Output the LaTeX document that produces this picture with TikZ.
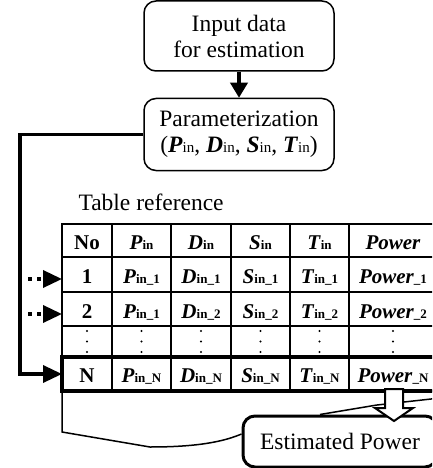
\documentclass[tikz,border=0pt]{standalone}
\usepackage{fontspec}
\setmainfont{Liberation Serif}
\usetikzlibrary{arrows.meta}

\newcommand{\bi}[1]{\textbf{\textit{#1}}}
\newcommand{\tsub}[1]{{\fontsize{13}{13}\selectfont\textbf{#1}}}
\newcommand{\psub}[1]{{\fontsize{15}{15}\selectfont #1}}

\begin{document}
\begin{tikzpicture}[x=1pt, y=-1pt, font=\fontsize{23.5}{27}\selectfont,
        box/.style={draw, rounded corners=12pt, line width=1.5pt, fill=white,
            minimum width=190pt, align=center, inner sep=2pt},
        cell/.style={font=\fontsize{21}{23}\selectfont\bfseries, text height=14pt, text depth=1pt},
        tip/.style={-{Triangle[length=19pt, width=17pt]}}]
        \useasboundingbox (0, 0) rectangle (432, 468);
        \clip (0, 0) rectangle (432, 468);
        \node [box, minimum height=70pt] (input) at (239, 36) {Input data\\[-1pt]for estimation};
        \node [box, minimum height=72pt] (param) at (239, 134.5)
            {Parameterization\\[-1pt](\bi{P}\psub{in}, \bi{D}\psub{in}, \bi{S}\psub{in}, \bi{T}\psub{in})};
        \draw [line width=3.5pt, -{Triangle[length=15pt, width=17pt]}] (input) -- (param);
        \node [anchor=west] (tref) at (75, 202) {Table reference};
        \draw [line width=1.5pt] (62, 224) rectangle (437, 391);
        \foreach \x in {112, 171, 231, 290, 349}
            \draw [line width=1.2pt] (\x, 224) -- (\x, 391);
        \foreach \y in {257, 292, 326}
            \draw [line width=1.2pt] (62, \y) -- (437, \y);
        \draw [line width=3.5pt] (62, 357) rectangle (437, 391);
        \foreach \cx/\h/\a/\b/\n [count=\i] in {
                87/No/1/2/N,
                141.5/{\bi{P}\tsub{in}}/{\bi{P}\tsub{in\_1}}/{\bi{P}\tsub{in\_1}}/{\bi{P}\tsub{in\_N}},
                201/{\bi{D}\tsub{in}}/{\bi{D}\tsub{in\_1}}/{\bi{D}\tsub{in\_2}}/{\bi{D}\tsub{in\_N}},
                260.5/{\bi{S}\tsub{in}}/{\bi{S}\tsub{in\_1}}/{\bi{S}\tsub{in\_2}}/{\bi{S}\tsub{in\_N}},
                319.5/{\bi{T}\tsub{in}}/{\bi{T}\tsub{in\_1}}/{\bi{T}\tsub{in\_2}}/{\bi{T}\tsub{in\_N}},
                393/{\bi{Power}}/{\bi{Power}\tsub{\_1}}/{\bi{Power}\tsub{\_2}}/{\bi{Power}\tsub{\_N}}} {
            \node [cell] (h\i) at (\cx, 243) {\h};
            \node [cell] (a\i) at (\cx, 277) {\a};
            \node [cell] (b\i) at (\cx, 312) {\b};
            \node [cell] (n\i) at (\cx, 376) {\n};
            \foreach \dy in {331, 341.5, 352}
                \fill (\cx, \dy) circle [radius=1.2pt];
        }
        \coordinate (in1) at (62, 279);
        \coordinate (in2) at (62, 314);
        \coordinate (inN) at (62, 374);
        \coordinate (bend) at (20, 134.5);
        \draw [line width=3.5pt, dash pattern=on 4pt off 5pt, tip] (28, 279) -- (in1);
        \draw [line width=3.5pt, dash pattern=on 4pt off 5pt, tip] (28, 314) -- (in2);
        \draw [line width=3.5pt, tip, line join=miter] (param.west) -- (bend) |- (inN);
        \coordinate (cl1) at (62, 432);
        \coordinate (cl2) at (150, 447);
        \coordinate (cr1) at (377, 405);
        \coordinate (cr2) at (440, 398);
        \node [box, line width=3pt, minimum width=194pt, minimum height=51pt] (est) at (340, 441.5) {Estimated Power};
        \draw [line width=1.5pt] (62, 391) -- (cl1) -- (cl2) .. controls (200, 447) and (225, 441) .. (est.west |- 0, 434);
        \draw [line width=1.5pt] (est.north -| 320, 0) -- (cr1) -- (cr2);
        \draw [line width=2pt, fill=white, line join=miter] (385, 389) -- (403, 389) -- (403, 408) -- (413, 408)
            -- (394, 421) -- (375, 408) -- (385, 408) -- cycle;
    \end{tikzpicture}
\end{document}
